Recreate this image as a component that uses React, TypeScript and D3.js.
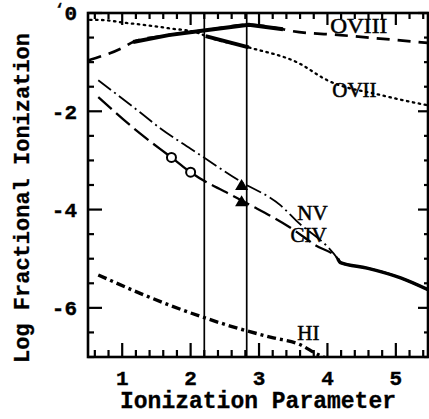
import React from "react";
import * as d3 from "d3";

// ---- data ----
const oviiX = [0.53, 0.65, 1.05, 1.68, 2.12, 2.22, 2.85, 3.58, 4.0, 4.78, 5.47];
const oviiY = [-0.14, -0.14, -0.2, -0.31, -0.41, -0.47, -0.7, -1.02, -1.37, -1.67, -1.88];

const oviiiX = [0.51, 1.0, 1.16, 1.68, 2.22, 2.85, 3.35, 3.49, 4.19, 5.47];
const oviiiY = [-0.96, -0.71, -0.59, -0.45, -0.35, -0.24, -0.33, -0.37, -0.45, -0.61];

const oviiiThickX = [1.16, 1.68, 2.22, 2.85, 3.35];
const oviiiThickY = [-0.59, -0.45, -0.35, -0.24, -0.33];

const oviiThickX = [2.22, 2.85];
const oviiThickY = [-0.47, -0.7];

const nvX = [0.65, 1.26, 1.56, 2.0, 2.73, 3.32, 3.54, 4.15, 4.19, 4.58, 5.07, 5.47];
const nvY = [-1.37, -2.02, -2.35, -2.76, -3.43, -3.92, -4.22, -5.0, -5.08, -5.19, -5.39, -5.63];

const civX = [0.65, 1.26, 1.72, 2.0, 2.74, 3.46, 3.83, 4.15, 4.19, 4.58, 5.07, 5.47];
const civY = [-1.71, -2.45, -2.94, -3.24, -3.81, -4.37, -4.73, -5.0, -5.08, -5.19, -5.39, -5.63];

const tailThickX = [4.15, 4.19, 4.58, 5.07, 5.47];
const tailThickY = [-5.0, -5.08, -5.19, -5.39, -5.63];

const hiX = [0.65, 1.27, 2.2, 2.58, 3.21, 3.57, 3.88, 3.95];
const hiY = [-5.33, -5.71, -6.2, -6.37, -6.61, -6.73, -6.96, -7.0];

const circleX = [1.72, 2.0];
const circleY = [-2.94, -3.24];

const triangleX = [2.745, 2.745];
const triangleY = [-3.49, -3.82];

const verticalLines = [2.2, 2.82];

const xTickLabels = ["1", "2", "3", "4", "5"];
const xTickValues = [1, 2, 3, 4, 5];
const yTickLabels = ["0", "-2", "-4", "-6"];
const yTickValues = [0, -2, -4, -6];

const ionLabels = ["OVIII", "OVII", "NV", "CIV", "HI"];
const ionLabelX = [4.04, 4.07, 3.56, 3.46, 3.56];
const ionLabelY = [-0.41, -1.71, -4.21, -4.66, -6.65];

export default function App() {
  const W = 429, H = 419;
  const x = d3.scaleLinear().domain([0.5, 5.47]).range([88, 428]);
  const y = d3.scaleLinear().domain([0, -7]).range([13, 357]);

  const pts = (xs: number[], ys: number[]) => xs.map((v, i) => [v, ys[i]] as [number, number]);
  const smooth = d3.line<[number, number]>().x(d => x(d[0])).y(d => y(d[1])).curve(d3.curveMonotoneX);
  const straight = d3.line<[number, number]>().x(d => x(d[0])).y(d => y(d[1]));

  const x0 = x(0.5), x1 = x(5.47), y0 = y(0), y1 = y(-7);
  const mono = "'Liberation Mono', 'DejaVu Sans Mono', monospace";
  const serif = "'Liberation Serif', 'DejaVu Serif', serif";

  const bottomTicks = d3.range(0.6, 5.41, 0.2).map(v => Math.round(v * 10) / 10);
  const leftTicks = d3.range(0, -7.01, -0.5).map(v => Math.round(v * 10) / 10);

  const tri = (cx: number, cy: number) => {
    const w = 13, h = 11;
    return `M${cx - w / 2},${cy + h / 2} L${cx + w / 2},${cy + h / 2} L${cx},${cy - h / 2} Z`;
  };

  return (
    <svg width={W} height={H} style={{ position: "absolute", left: 0, top: 0, background: "#fff" }}>
      <rect x={0} y={0} width={W} height={H} fill="#fff" />
      <defs>
        <clipPath id="plot">
          <rect x={x0} y={y0} width={x1 - x0} height={y1 - y0} />
        </clipPath>
      </defs>

      {/* ticks */}
      <g stroke="#000" strokeWidth={2.2}>
        {bottomTicks.map((v, i) => {
          const major = Math.abs(v - Math.round(v)) < 1e-6;
          return (
            <g key={"b" + i}>
              <line x1={x(v)} x2={x(v)} y1={y1} y2={y1 - (major ? 14 : 7)} />
              <line x1={x(v)} x2={x(v)} y1={y0} y2={y0 + (major ? 12 : 6)} />
            </g>
          );
        })}
        {leftTicks.map((v, i) => {
          const major = Math.abs(v / 2 - Math.round(v / 2)) < 1e-6;
          return (
            <g key={"l" + i}>
              <line x1={x0} x2={x0 + (major ? 14 : 6)} y1={y(v)} y2={y(v)} />
              <line x1={x1} x2={x1 - (major ? 10 : 4)} y1={y(v)} y2={y(v)} />
            </g>
          );
        })}
      </g>

      <g clipPath="url(#plot)" fill="none" stroke="#000">
        {verticalLines.map((v, i) => (
          <line key={"v" + i} x1={x(v)} x2={x(v)} y1={y0} y2={y1} strokeWidth={1.7} />
        ))}
        <path d={smooth(pts(oviiX, oviiY)) || ""} strokeWidth={2.3} strokeDasharray="1.5,4.5" strokeLinecap="round" />
        <path d={smooth(pts(oviiiX, oviiiY)) || ""} strokeWidth={2.7} strokeDasharray="13,8" />
        <path d={straight(pts(oviiiThickX, oviiiThickY)) || ""} strokeWidth={4} />
        <path d={straight(pts(oviiThickX, oviiThickY)) || ""} strokeWidth={4} />
        <path d={smooth(pts(nvX, nvY)) || ""} strokeWidth={1.8} strokeDasharray="16,4,2,4" />
        <path d={smooth(pts(civX, civY)) || ""} strokeWidth={2.3} strokeDasharray="18,6" />
        <path d={smooth(pts(tailThickX, tailThickY)) || ""} strokeWidth={3.4} />
        <path d={smooth(pts(hiX, hiY)) || ""} strokeWidth={3.4} strokeDasharray="9,4,3,4" />
        {circleX.map((v, i) => (
          <circle key={"c" + i} cx={x(v)} cy={y(circleY[i])} r={4.5} fill="#fff" strokeWidth={2} />
        ))}
        {triangleX.map((v, i) => (
          <path key={"t" + i} d={tri(x(v), y(triangleY[i]))} fill="#000" stroke="none" />
        ))}
      </g>

      {/* frame */}
      <rect x={x0} y={y0} width={x1 - x0} height={y1 - y0} fill="none" stroke="#000" strokeWidth={2.6} />

      {/* ion labels */}
      <g fontFamily={serif} fontSize={21} fill="#000" stroke="#000" strokeWidth={0.5}>
        {ionLabels.map((t, i) => (
          <text key={t} x={x(ionLabelX[i])} y={y(ionLabelY[i])}
            {...(t === "OVIII" ? { textLength: 57, lengthAdjust: "spacingAndGlyphs" } : {})}>{t}</text>
        ))}
      </g>

      {/* tick labels */}
      <g fontFamily={mono} fontWeight="bold" fontSize={21} fill="#000" stroke="#000" strokeWidth={0.4}>
        {xTickValues.map((v, i) => (
          <text key={"xt" + i} x={x(v)} y={385} textAnchor="middle">{xTickLabels[i]}</text>
        ))}
        {yTickValues.map((v, i) => (
          <text key={"yt" + i} x={77} y={y(v)} dy="0.35em" textAnchor="end">{yTickLabels[i]}</text>
        ))}
        <text x={55} y={14} fontSize={15}>‘</text>
      </g>

      {/* axis titles */}
      <g fontFamily={mono} fontWeight="bold" fill="#000" stroke="#000" strokeWidth={0.3}>
        <text x={258} y={408} textAnchor="middle" fontSize={23}>Ionization Parameter</text>
        <text transform="translate(29,198) rotate(-90)" textAnchor="middle" fontSize={22}>Log Fractional Ionization</text>
      </g>
    </svg>
  );
}
